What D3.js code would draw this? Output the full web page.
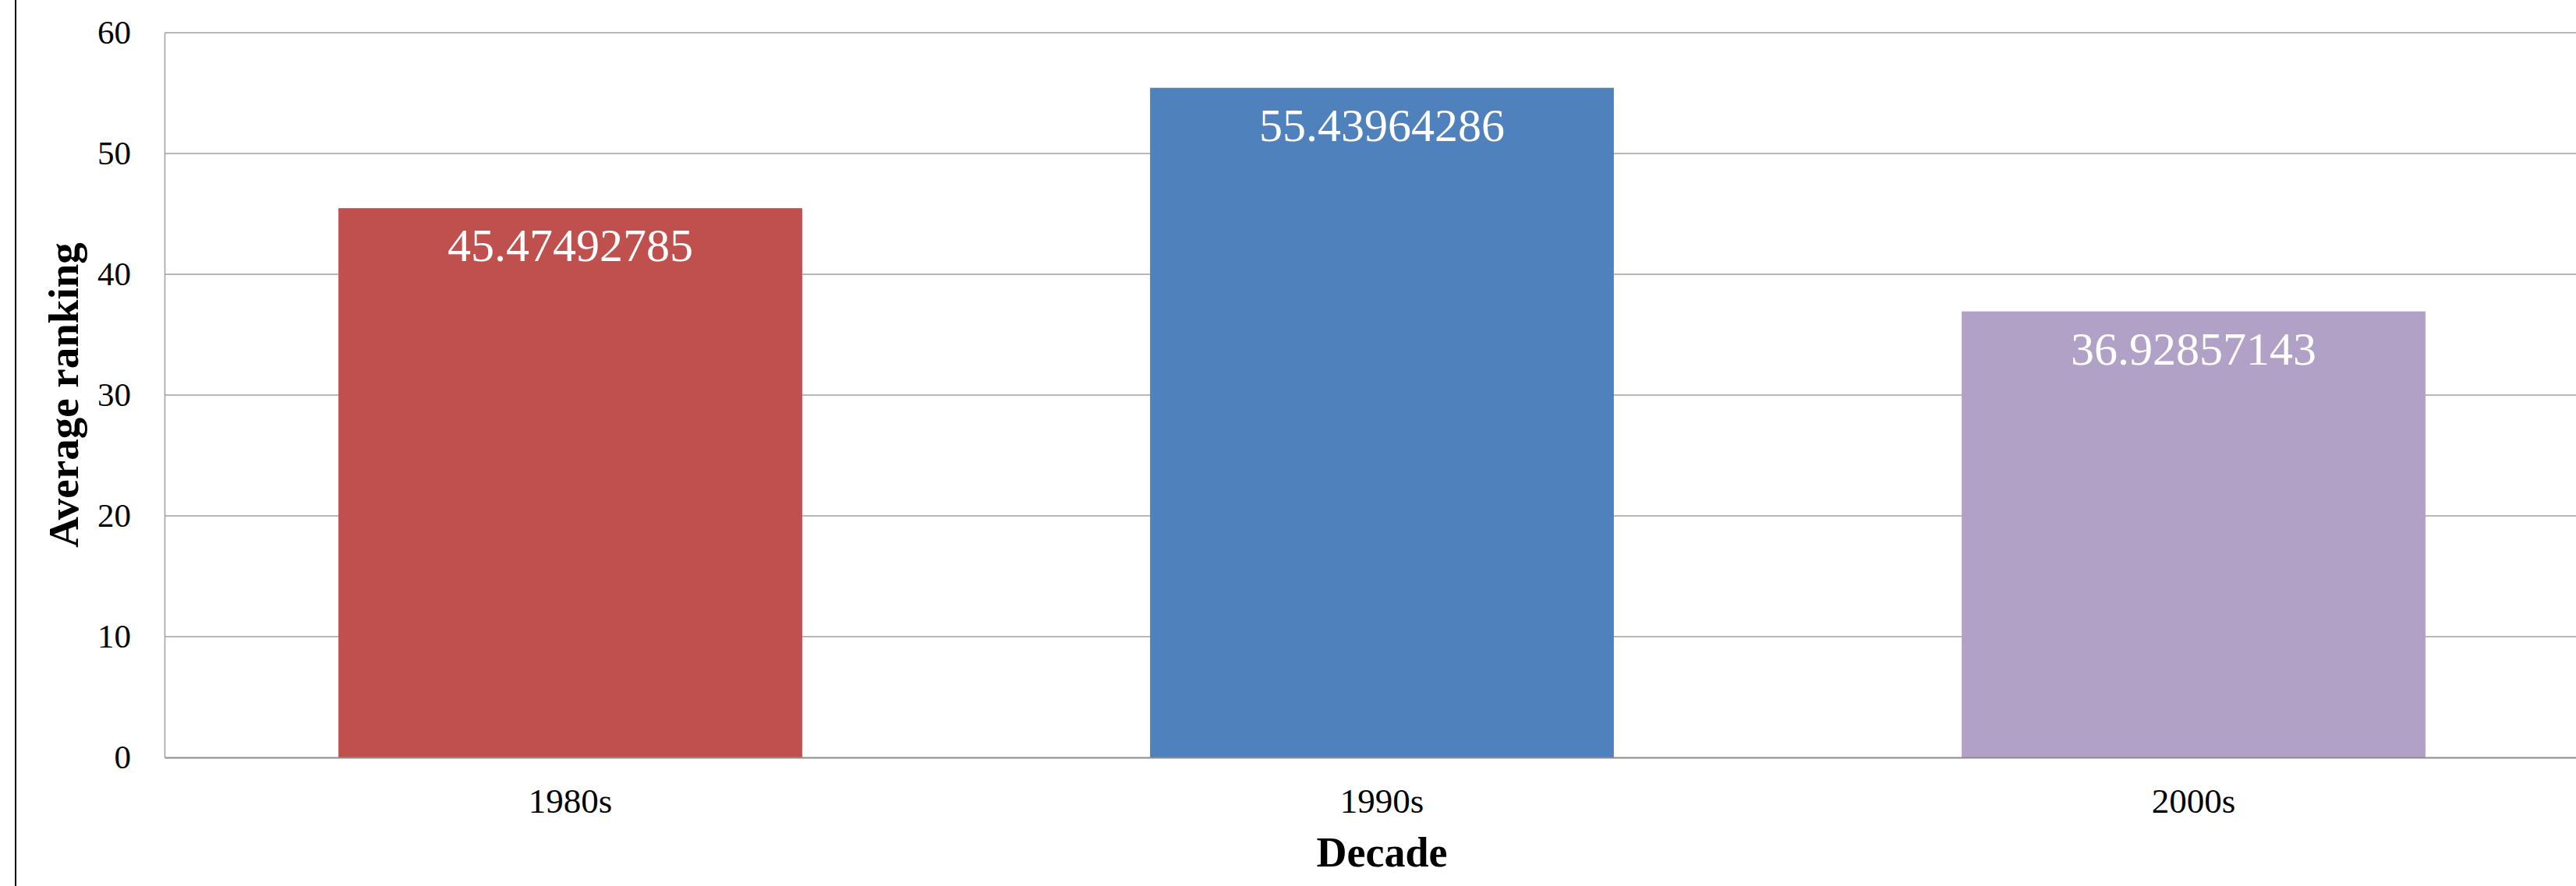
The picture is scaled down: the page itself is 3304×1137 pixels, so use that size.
<!DOCTYPE html>
<html>
<head>
<meta charset="utf-8">
<script src="https://cdn.jsdelivr.net/npm/d3@7"></script>
<style>
  body { margin: 0; background: #fff; }
  svg { display: block; font-family: "Liberation Serif", serif; }
</style>
</head>
<body>
<main></main>
<script>
const decades = ['1980s', '1990s', '2000s'];
const avg_ranking = [45.47492785, 55.43964286, 36.92857143];
const bar_colors = ['#C0504D', '#4F81BD', '#B1A1C7'];
const y_ticks = [0, 10, 20, 30, 40, 50, 60];

/**
 * Draw the bar chart of average ranking per decade
 */
function draw_chart() {
  const width = 3304;
  const height = 1137;
  const left = 211, right = 3334, top = 42, bottom = 972;

  let svg = d3.select('main')
    .append('svg')
    .attr('width', width)
    .attr('height', height);

  // thin black frame edge on the left
  svg.append('line')
    .attr('x1', 20).attr('x2', 20)
    .attr('y1', 0).attr('y2', height)
    .attr('stroke', '#000')
    .attr('stroke-width', 2);

  const x = d3.scaleBand()
    .domain(decades)
    .range([left, right])
    .paddingInner(0.4286)
    .paddingOuter(0.2143);

  const y = d3.scaleLinear()
    .domain([0, 60])
    .range([bottom, top]);

  // gridlines
  svg.append('g')
    .selectAll('line')
    .data(y_ticks.filter(function (d) { return d > 0; }))
    .enter()
    .append('line')
    .attr('x1', left)
    .attr('x2', right)
    .attr('y1', function (d) { return y(d); })
    .attr('y2', function (d) { return y(d); })
    .attr('stroke', '#a0a0a0')
    .attr('stroke-width', 1.5);

  // y axis
  let ya = svg.append('g')
    .attr('transform', 'translate(' + left + ',0)')
    .call(d3.axisLeft(y).tickValues(y_ticks).tickSize(0).tickPadding(43));
  ya.select('.domain').attr('stroke', '#a0a0a0').attr('stroke-width', 1.5);
  ya.selectAll('text')
    .attr('font-family', '"Liberation Serif", serif')
    .attr('font-size', 43)
    .attr('fill', '#000');

  // bars
  svg.append('g')
    .selectAll('rect')
    .data(avg_ranking)
    .enter()
    .append('rect')
    .attr('x', function (d, i) { return x(decades[i]); })
    .attr('y', function (d) { return y(d); })
    .attr('width', x.bandwidth())
    .attr('height', function (d) { return y(0) - y(d); })
    .attr('fill', function (d, i) { return bar_colors[i]; });

  // value labels inside bars
  svg.append('g')
    .selectAll('text')
    .data(avg_ranking)
    .enter()
    .append('text')
    .attr('x', function (d, i) { return x(decades[i]) + x.bandwidth() / 2; })
    .attr('y', function (d) { return y(d) + 68; })
    .attr('text-anchor', 'middle')
    .attr('font-size', 60)
    .attr('fill', '#fff')
    .text(function (d) { return String(d); });

  // x axis
  let xa = svg.append('g')
    .attr('transform', 'translate(0,' + bottom + ')')
    .call(d3.axisBottom(x).tickSize(0));
  xa.select('.domain').attr('stroke', '#8c8c8c').attr('stroke-width', 2);
  xa.selectAll('text')
    .attr('font-family', '"Liberation Serif", serif')
    .attr('font-size', 45)
    .attr('fill', '#000')
    .attr('y', 71)
    .attr('dy', 0);

  // axis titles
  svg.append('text')
    .attr('x', (left + right) / 2)
    .attr('y', 1112)
    .attr('text-anchor', 'middle')
    .attr('font-size', 54)
    .attr('font-weight', 'bold')
    .text('Decade');

  svg.append('text')
    .attr('transform', 'translate(100,' + (top + bottom) / 2 + ') rotate(-90)')
    .attr('text-anchor', 'middle')
    .attr('font-size', 55)
    .attr('font-weight', 'bold')
    .text('Average ranking');
}

draw_chart();
</script>
</body>
</html>
